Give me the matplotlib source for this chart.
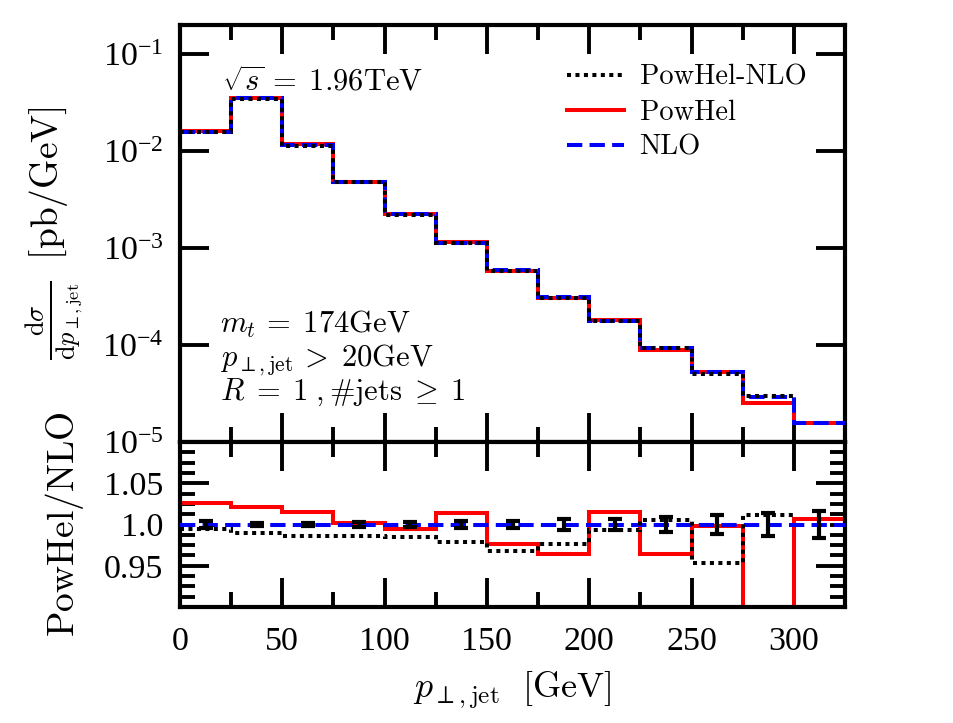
import numpy as np
import matplotlib
matplotlib.use("Agg")
import matplotlib.pyplot as plt
from matplotlib.ticker import MultipleLocator, FixedLocator, NullLocator, FuncFormatter

plt.rcParams['mathtext.fontset'] = 'cm'
plt.rcParams['font.family'] = ['Liberation Serif', 'DejaVu Serif']

# ---------------- data ----------------
edges = [0, 25, 50, 75, 100, 125, 150, 175, 200, 225, 250, 275, 300, 325]
nlo = [0.0158, 0.0350, 0.01155, 0.00485, 0.00225, 0.00114, 5.95e-4, 3.15e-4,
       1.77e-4, 9.25e-5, 5.25e-5, 2.93e-5, 1.56e-5]
powhel = [0.0162, 0.0357, 0.01172, 0.00486, 0.00224, 0.001156, 5.81e-4, 3.04e-4,
          1.80e-4, 8.92e-5, 5.24e-5, 2.51e-5, 1.57e-5]
powhel_nlo = [0.0157, 0.0347, 0.01139, 0.00478, 0.00222, 0.001116, 5.76e-4, 3.07e-4,
              1.76e-4, 9.30e-5, 5.00e-5, 2.96e-5]
edges_pwnlo = edges[:13]

ratio_powhel = [1.026, 1.021, 1.015, 1.002, 0.995, 1.014, 0.976, 0.964,
                1.015, 0.964, 0.998, 0.855, 1.007]
ratio_pwnlo = [0.995, 0.990, 0.986, 0.986, 0.985, 0.979, 0.968, 0.976,
               0.993, 1.005, 0.953, 1.011]
nlo_err = [0.0040, 0.0022, 0.0022, 0.0030, 0.0035, 0.0040, 0.0046, 0.0064,
           0.0071, 0.0093, 0.0120, 0.0144, 0.0169]

edges_a = np.array(edges, float)
centers = 0.5 * (edges_a[:-1] + edges_a[1:])
ratio_nlo = np.array(nlo) / np.array(nlo)

# ---------------- figure ----------------
W, H = 954, 723
fig = plt.figure(figsize=(W / 100, H / 100), dpi=100)
L, R = 180, 845
T1, B1, B2 = 25, 442, 607
ax1 = fig.add_axes([L / W, 1 - B1 / H, (R - L) / W, (B1 - T1) / H])
ax2 = fig.add_axes([L / W, 1 - B2 / H, (R - L) / W, (B2 - B1) / H])

LW = 2.9
dash = (0, (3.8, 1.8))
dot = (0, (1.0, 1.1))
TLS = 24.5

for ax in (ax1, ax2):
    for s in ax.spines.values():
        s.set_linewidth(3.0)
    ax.tick_params(which='both', direction='in', top=True, right=True,
                   width=2.8, labelsize=TLS, pad=12)
    ax.tick_params(which='major', length=21)
    ax.tick_params(which='minor', length=11)
    ax.set_xlim(0, 325)
    ax.xaxis.set_major_locator(MultipleLocator(50))
    ax.xaxis.set_minor_locator(MultipleLocator(25))

# upper panel
ax1.set_yscale('log')
ax1.set_ylim(1e-5, 0.2)
ax1.stairs(powhel, edges, baseline=None, color='red', lw=LW, zorder=2, label='PowHel')
ax1.stairs(nlo, edges, baseline=None, color='blue', lw=LW, ls=dash, zorder=3, label='NLO')
ax1.stairs(powhel_nlo, edges_pwnlo, baseline=None, color='black', lw=LW, ls=dot,
           zorder=4, label='PowHel-NLO')
ax1.yaxis.set_major_locator(FixedLocator([1e-5, 1e-4, 1e-3, 1e-2, 1e-1]))
ax1.yaxis.set_minor_locator(NullLocator())
ax1.yaxis.set_major_formatter(FuncFormatter(
    lambda v, p: r'$\mathregular{10^{%d}}$' % int(round(np.log10(v)))))
ax1.tick_params(axis='x', labelbottom=False)

h, l = ax1.get_legend_handles_labels()
order = [2, 0, 1]
ax1.legend([h[i] for i in order], [l[i] for i in order], loc='upper left',
           bbox_to_anchor=((567 - L) / (R - L), 0.905), frameon=False,
           prop={'family': 'cmr10', 'size': 20.5}, handlelength=2.0,
           handletextpad=0.55, labelspacing=0.3, borderpad=0, borderaxespad=0)

def atext(xp, yp, s):
    ax1.text((xp - L) / (R - L), 1 - (yp - T1) / (B1 - T1), s,
             transform=ax1.transAxes, fontsize=22, va='baseline', ha='left')

atext(222, 90, r'$\sqrt{s}\,=\;1.96\mathrm{TeV}$')
atext(220, 333, r'$m_t\,=\;174\mathrm{GeV}$')
atext(220, 366, r'$p_{\perp,\mathrm{jet}}\,>\;20\mathrm{GeV}$')
atext(220, 400, r'$R\;=\;1\;,\#\mathrm{jets}\;\geq\;1$')

ax1.set_ylabel(r'$\frac{\mathrm{d}\sigma}{\mathrm{d}p_{\perp,\mathrm{jet}}}\;\; [\mathrm{pb/GeV}]$',
               fontsize=27)
ax1.yaxis.set_label_coords((86 - L) / (R - L), 0.5)

# lower panel
ax2.set_ylim(0.9, 1.1)
ax2.stairs(ratio_powhel, edges, baseline=None, color='red', lw=LW, zorder=2)
ax2.stairs(ratio_nlo, edges, baseline=None, color='blue', lw=LW, ls=dash, zorder=3)
ax2.stairs(ratio_pwnlo, edges_pwnlo, baseline=None, color='black', lw=LW, ls=dot, zorder=4)
ax2.errorbar(centers, ratio_nlo, yerr=nlo_err, fmt='none', ecolor='black',
             elinewidth=3.0, capsize=4.8, capthick=3.0, zorder=5)
ax2.yaxis.set_major_locator(FixedLocator([0.95, 1.05]))
ax2.yaxis.set_major_formatter(FuncFormatter(lambda v, p: '%.2f' % v))
ax2.yaxis.set_minor_locator(MultipleLocator(0.0125))
ax2.yaxis.set_minor_formatter(FuncFormatter(lambda v, p: '1.0' if abs(v - 1) < 1e-6 else ''))
ax2.tick_params(axis='y', which='minor', labelsize=TLS, pad=12)
ax2.tick_params(axis='x', pad=14)

ax2.set_ylabel(r'$\mathrm{PowHel/NLO}$', fontsize=27)
ax2.yaxis.set_label_coords((86 - L) / (R - L), 0.5)
ax2.set_xlabel(r'$p_{\perp,\mathrm{jet}}\ \ [\mathrm{GeV}]$', fontsize=26)
ax2.xaxis.set_label_coords(0.5, -(670 - B2) / (B2 - B1))

fig.savefig('out.png', dpi=100, facecolor='white')
